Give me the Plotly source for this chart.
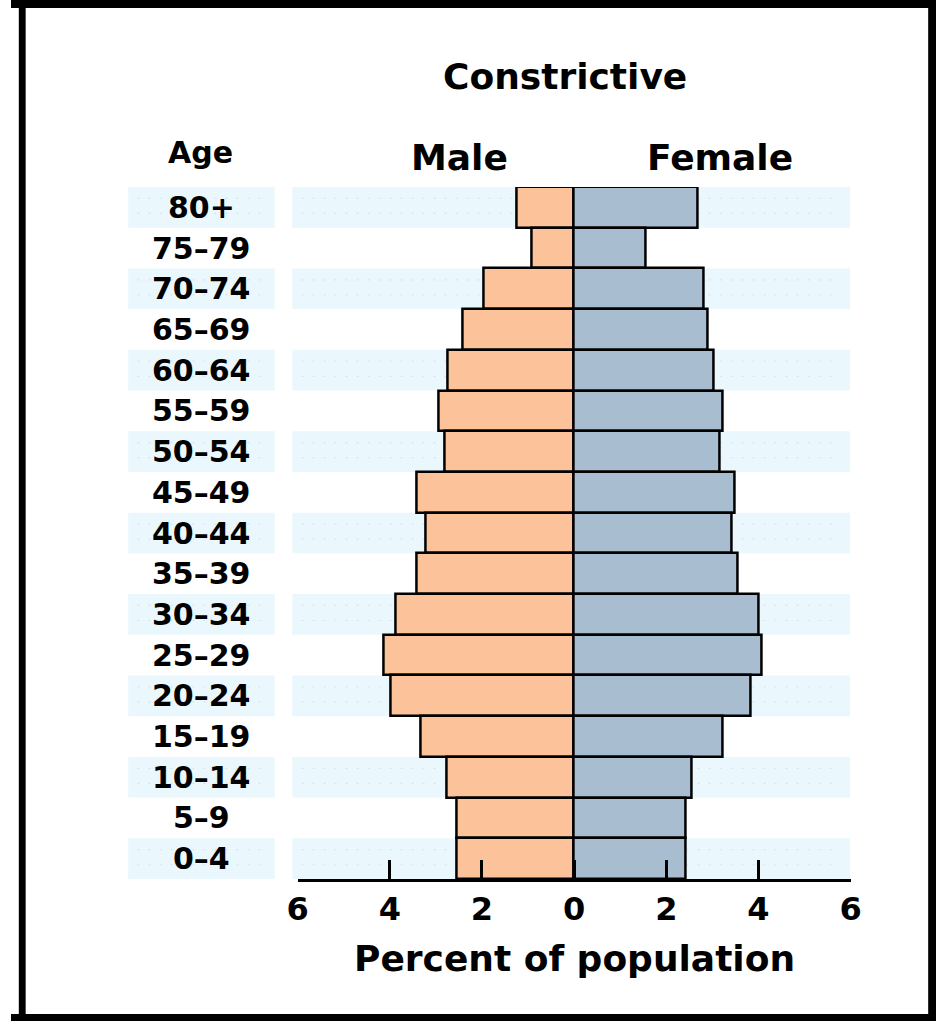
import plotly.graph_objects as go

# age groups, top to bottom as printed
ages = ["80+", "75\u201379", "70\u201374", "65\u201369", "60\u201364", "55\u201359", "50\u201354",
        "45\u201349", "40\u201344", "35\u201339", "30\u201334", "25\u201329", "20\u201324",
        "15\u201319", "10\u201314", "5\u20139", "0\u20134"]

# percent of population
male = [1.25, 0.92, 1.97, 2.42, 2.75, 2.95, 2.81, 3.42, 3.22, 3.42, 3.87, 4.14, 3.99,
        3.34, 2.77, 2.55, 2.55]
female = [2.69, 1.56, 2.81, 2.89, 3.03, 3.22, 3.15, 3.48, 3.41, 3.56, 4.01, 4.07, 3.83,
          3.22, 2.55, 2.42, 2.42]

tick_vals = [-6, -4, -2, 0, 2, 4, 6]
tick_text = ["6", "4", "2", "0", "2", "4", "6"]

W, H = 947, 1021
FONT = "DejaVu Sans"
MALE_C = "#fcc29a"
FEMALE_C = "#a9bdd0"
BAND_C = "#eaf8fd"


def px(x):
    return x / W


def py(y):
    return 1 - y / H


fig = go.Figure()
fig.add_trace(go.Bar(
    y=ages, x=[-v for v in male], orientation="h", name="Male",
    marker=dict(color=MALE_C, line=dict(color="black", width=2.5)),
))
fig.add_trace(go.Bar(
    y=ages, x=female, orientation="h", name="Female",
    marker=dict(color=FEMALE_C, line=dict(color="black", width=2.5)),
))

shapes = []
# light striped bands on every other age row
for i in range(0, len(ages), 2):
    for x0, x1 in [(px(288), px(859)), (px(120), px(270))]:
        shapes.append(dict(type="rect", xref="paper", yref="y", x0=x0, x1=x1,
                           y0=i - 0.5, y1=i + 0.5, fillcolor=BAND_C,
                           line=dict(width=0), layer="below"))
        for dy in (-0.22, 0.15):
            shapes.append(dict(type="line", xref="paper", yref="y", x0=x0 + 0.01, x1=x1 - 0.01,
                               y0=i + dy, y1=i + dy,
                               line=dict(color="#d6e4ea", width=1.2, dash="2px,9px"),
                               layer="below"))

# black frame around the whole picture
for x0, y0, x1, y1 in [(8, 0, 15, H), (0, 0, W, 8), (939, 0, W, H), (0, 1014, W, H)]:
    shapes.append(dict(type="rect", xref="paper", yref="paper",
                       x0=px(x0), x1=px(x1), y0=py(y1), y1=py(y0),
                       fillcolor="black", line=dict(width=0)))

annotations = []
for a in ages:
    annotations.append(dict(text=a, xref="paper", yref="y", x=px(195), y=a,
                            showarrow=False, xanchor="center", yanchor="middle",
                            font=dict(family=FONT, size=30, color="black", weight="bold")))


def label(text, x, y, size):
    annotations.append(dict(text=text, xref="paper", yref="paper", x=px(x), y=py(y),
                            showarrow=False, xanchor="center", yanchor="middle",
                            font=dict(family=FONT, size=size, color="black", weight="bold")))


label("Constrictive", 567, 76, 36)
label("Age", 194, 153, 30)
label("Male", 459, 157, 36)
label("Female", 726, 157, 36)
label("Percent of population", 577, 958, 36)

fig.update_layout(
    width=W, height=H,
    margin=dict(l=0, r=0, t=0, b=0),
    paper_bgcolor="white", plot_bgcolor="rgba(0,0,0,0)",
    barmode="relative", bargap=0,
    showlegend=False,
    shapes=shapes,
    annotations=annotations,
    xaxis=dict(
        domain=[px(293.5), px(859.5)], range=[-6, 6],
        tickvals=tick_vals, ticktext=tick_text,
        ticks="inside", ticklen=19, tickwidth=2.5, tickcolor="black",
        showline=True, linewidth=2.5, linecolor="black",
        showgrid=False, zeroline=False,
        tickfont=dict(family=FONT, size=32, color="black", weight="bold"),
    ),
    yaxis=dict(
        domain=[py(879), py(187)], range=[16.5, -0.5],
        type="category", categoryorder="array", categoryarray=ages,
        showticklabels=False, showgrid=False, zeroline=False, showline=False, ticks="",
    ),
)

fig.write_html(
    "out.html",
    config={"displayModeBar": False},
    post_script="document.body.style.margin='0'; document.body.style.overflow='hidden';",
)
